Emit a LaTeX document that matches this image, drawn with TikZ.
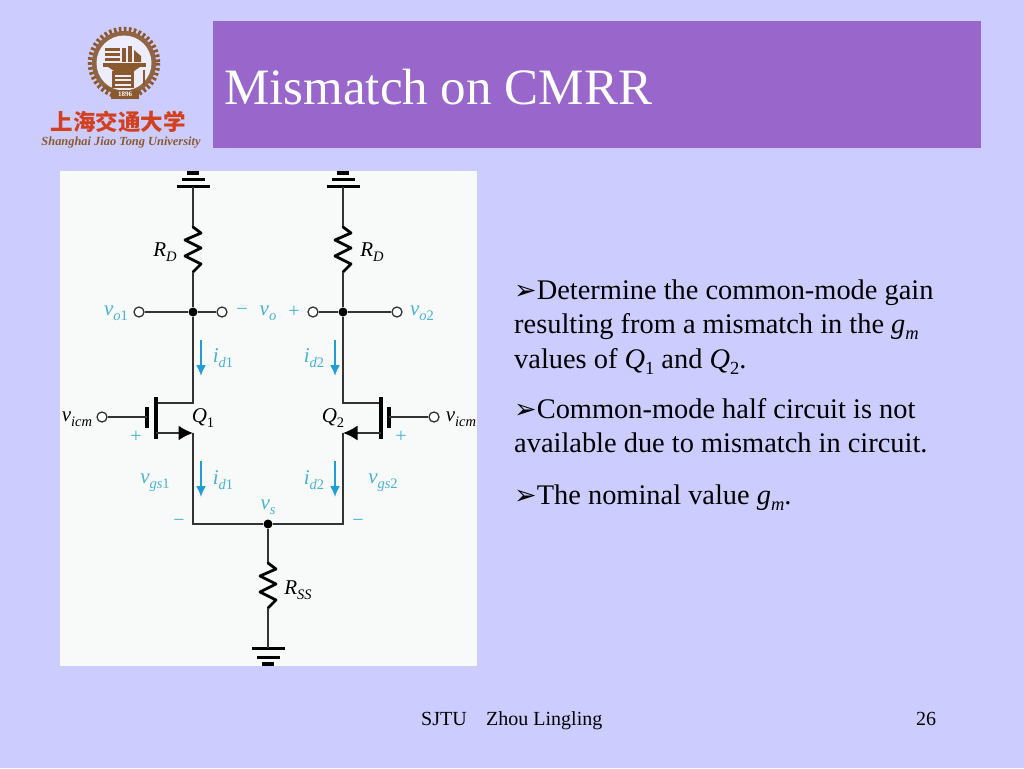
\documentclass[tikz,border=0pt]{standalone}
\usepackage{fontspec}
\setmainfont{Liberation Serif}
\newfontfamily\dejavu{DejaVu Sans}
\newfontfamily\cjkfont{Noto Sans CJK SC}
\definecolor{slidebg}{HTML}{CCCCFF}
\definecolor{titlebar}{HTML}{9966CC}
\definecolor{panel}{HTML}{F8F9F9}
\definecolor{wirec}{HTML}{333333}
\definecolor{cyanlab}{HTML}{45B3D6}
\definecolor{cyanarr}{HTML}{1E9FD8}
\definecolor{gearc}{HTML}{8A5A2E}
\definecolor{logored}{HTML}{D2401E}
\usetikzlibrary{arrows.meta}
\tikzset{
  wire/.style={draw=wirec,line width=1.6pt},
  zig/.style={draw=black,line width=2.8pt,line join=round,line cap=round},
  gatebar/.style={draw=black,line width=3.2pt},
  term/.style={circle,draw=wirec,fill=white,line width=1.3pt,minimum size=10pt,inner sep=0pt},
  dotn/.style={circle,fill=black,minimum size=9pt,inner sep=0pt},
  curr/.style={draw=cyanarr,line width=2pt,-{Latex[length=11pt,width=10pt]}},
  blab/.style={text=black,inner sep=0pt,font=\fontsize{21}{21}\selectfont\itshape},
  clab/.style={text=cyanlab,inner sep=0pt,font=\fontsize{21}{21}\selectfont\itshape},
  sym/.style={text=cyanlab,inner sep=0pt,font=\fontsize{20}{20}\selectfont},
  body/.style={anchor=base west,inner sep=0pt,font=\fontsize{28.4}{28.4}\selectfont},
  foot/.style={anchor=base west,inner sep=0pt,font=\fontsize{20}{20}\selectfont},
  gearb/.style={fill=gearc,draw=none},
}
\newcommand{\sbs}[2]{#1\raisebox{-0.22em}{\fontsize{14.5}{14.5}\selectfont #2}}
\newcommand{\sbu}[2]{#1\raisebox{-0.22em}{\fontsize{14.5}{14.5}\selectfont\upshape #2}}
\newcommand{\lsub}[1]{\raisebox{-0.22em}{\fontsize{18.5}{18.5}\selectfont #1}}
\newcommand{\bult}{{\dejavu\fontsize{27}{27}\selectfont ➢}}
\begin{document}
\begin{tikzpicture}[x=1pt,y=-1pt]
\useasboundingbox (0,0) rectangle (1024,768);
\fill[slidebg] (0,0) rectangle (1024,768);
\fill[titlebar] (213,21) rectangle (981,148);
\node[anchor=base west,inner sep=0pt,text=white,font=\fontsize{51}{51}\selectfont] (title) at (224,104) {Mismatch on CMRR};

% logo
\begin{scope}[shift={(0,5)}]
\fill[gearc!90!slidebg,draw=none] (124,58) circle (32);
\draw[gearc,line width=4.5pt,dash pattern=on 2.6pt off 2.4pt] (124,58) circle (34);
\fill[slidebg!35!white] (124,58) circle (27.5);
\fill[gearb] (103,57.5) rectangle (146,62);
\fill[gearb] (108,62) -- (140,62) -- (134,66) -- (114,66) -- cycle;
\fill[gearb] (112,66) rectangle (134,83);
\fill[slidebg!35!white] (115,69.5) rectangle (131,71.5);
\fill[slidebg!35!white] (115,74) rectangle (131,76);
\fill[slidebg!35!white] (115,78.5) rectangle (131,80.5);
\fill[gearb] (105,43) rectangle (120,46);
\fill[gearb] (105,48) rectangle (120,51);
\fill[gearb] (105,53) rectangle (120,56);
\fill[gearb] (122,43) rectangle (126,57);
\fill[gearb] (128,41) rectangle (132,57);
\fill[gearb] (134,45) -- (141,51) -- (141,57) -- (134,57) -- cycle;
\draw[gearc,line width=1.5pt] (144,65) -- (144,80);
\draw[gearc,line width=3pt] (104,82) -- (111,85);
\fill[gearc] (111,85) rectangle (139,94);
\node[inner sep=0pt,text=white,font=\fontsize{7}{7}\selectfont\bfseries] (year) at (125,89.5) {1896};
\end{scope}
\node[inner sep=0pt,text=logored,font=\fontsize{22.5}{22.5}\selectfont\cjkfont\bfseries] (cn) at (118,122) {上海交通大学};
\node[inner sep=0pt,text=gearc,font=\fontsize{12.4}{12.4}\selectfont\itshape\bfseries] (en) at (121,143) {Shanghai Jiao Tong University};

% panel
\fill[panel] (60,171) rectangle (477,666);
\begin{scope}
\clip (60,171) rectangle (477,666);
\coordinate (vl) at (193,187);
\coordinate (vr) at (343,187);
\coordinate (rd1t) at (193,227);
\coordinate (rd1b) at (193,272);
\coordinate (rd2t) at (343,227);
\coordinate (rd2b) at (343,272);
\node[dotn] (j1) at (193,312) {};
\node[dotn] (j2) at (343,312) {};
\node[term] (vo1t) at (139,312) {};
\node[term] (om) at (222,312) {};
\node[term] (op) at (313,312) {};
\node[term] (vo2t) at (397,312) {};
\coordinate (d1) at (193,403);
\coordinate (d2) at (343,403);
\coordinate (c1d) at (156,403);
\coordinate (c2d) at (381,403);
\coordinate (c1t) at (156,397);
\coordinate (c1b) at (156,439);
\coordinate (c2t) at (381,397);
\coordinate (c2b) at (381,439);
\coordinate (g1t) at (147,407);
\coordinate (g1b) at (147,428);
\coordinate (g2t) at (389,407);
\coordinate (g2b) at (389,428);
\coordinate (g1) at (147,417);
\coordinate (g2) at (389,417);
\node[term] (g1n) at (102,417) {};
\node[term] (g2n) at (434,417) {};
\coordinate (s1) at (193,433);
\coordinate (s2) at (343,433);
\coordinate (c1s) at (156,433);
\coordinate (c2s) at (381,433);
\coordinate (b1) at (193,524);
\coordinate (b2) at (343,524);
\node[dotn] (js) at (268,524) {};
\coordinate (rst) at (268,563);
\coordinate (rsb) at (268,608);
\coordinate (gnd) at (268,648);

% supplies
\foreach \c in {193,343}{
  \draw[black,line width=3pt] (\c-16.5,186.5) -- (\c+16.5,186.5);
  \draw[black,line width=3pt] (\c-11.5,179) -- (\c+11.5,179);
  \draw[black,line width=4pt] (\c-6,172.5) -- (\c+6,172.5);
}
\draw[black,line width=3pt] (252,648) -- (285,648);
\draw[black,line width=3pt] (257,657) -- (280,657);
\draw[black,line width=4pt] (262,664) -- (274,664);

% wires
\draw[wire] (vl) -- (rd1t);
\draw[wire] (vr) -- (rd2t);
\draw[zig] (rd1t) -- ++(8,6) -- ++(-16,7) -- ++(16,8) -- ++(-16,8) -- ++(16,8) -- ++(-8,8) -- (rd1b);
\draw[zig] (rd2t) -- ++(8,6) -- ++(-16,7) -- ++(16,8) -- ++(-16,8) -- ++(16,8) -- ++(-8,8) -- (rd2b);
\draw[wire] (rd1b) -- (j1);
\draw[wire] (rd2b) -- (j2);
\draw[wire] (vo1t) -- (j1);
\draw[wire] (j1) -- (om);
\draw[wire] (op) -- (j2);
\draw[wire] (j2) -- (vo2t);
\draw[wire] (j1) -- (d1) -- (c1d);
\draw[wire] (j2) -- (d2) -- (c2d);
\draw[gatebar] (c1t) -- (c1b);
\draw[gatebar] (c2t) -- (c2b);
\draw[gatebar] (g1t) -- (g1b);
\draw[gatebar] (g2t) -- (g2b);
\draw[wire] (g1n) -- (g1);
\draw[wire] (g2n) -- (g2);
\draw[wire,line width=2pt,-{Latex[length=14.5pt,width=15pt,black]}] (c1s) -- (s1);
\draw[wire,line width=2pt,-{Latex[length=14.5pt,width=15pt,black]}] (c2s) -- (s2);
\draw[wire] (s1) -- (b1) -- (js);
\draw[wire] (s2) -- (b2) -- (js);
\draw[wire] (js) -- (rst);
\draw[zig] (rst) -- ++(8,6) -- ++(-16,7) -- ++(16,8) -- ++(-16,8) -- ++(16,8) -- ++(-8,8) -- (rsb);
\draw[wire] (rsb) -- (gnd);

% current arrows
\coordinate (a1t) at (201,340); \coordinate (a1b) at (201,376);
\coordinate (a2t) at (335,340); \coordinate (a2b) at (335,376);
\coordinate (a3t) at (201,461); \coordinate (a3b) at (201,497);
\coordinate (a4t) at (335,461); \coordinate (a4b) at (335,497);
\draw[curr] (a1t) -- (a1b);
\draw[curr] (a2t) -- (a2b);
\draw[curr] (a3t) -- (a3b);
\draw[curr] (a4t) -- (a4b);

% labels
\node[blab] (lrd1) at (165,252) {\sbs{R}{D}};
\node[blab] (lrd2) at (372,252) {\sbs{R}{D}};
\node[clab] (lvo1) at (116,313) {\sbu{v}{\itshape o\upshape 1}};
\node[sym]  (lm) at (242,312) {−};
\node[clab] (lvo) at (268,313) {\sbs{v}{o}};
\node[sym]  (lp) at (294,312) {+};
\node[clab] (lvo2) at (422,313) {\sbu{v}{\itshape o\upshape 2}};
\node[clab] (li1) at (223,358) {\sbu{i}{\itshape d\upshape 1}};
\node[clab] (li2) at (314,358) {\sbu{i}{\itshape d\upshape 2}};
\node[clab] (li3) at (223,480) {\sbu{i}{\itshape d\upshape 1}};
\node[clab] (li4) at (314,480) {\sbu{i}{\itshape d\upshape 2}};
\node[blab] (lg1) at (77,419) {\sbs{v}{icm}};
\node[blab] (lg2) at (461,419) {\sbs{v}{icm}};
\node[blab] (lq1) at (203,418) {\sbu{Q}{1}};
\node[blab] (lq2) at (333,418) {\sbu{Q}{2}};
\node[sym] (lp1) at (136,437) {+};
\node[sym] (lp2) at (401,437) {+};
\node[clab] (lgs1) at (155,483) {\sbu{v}{\itshape gs\upshape 1}};
\node[clab] (lgs2) at (383,483) {\sbu{v}{\itshape gs\upshape 2}};
\node[clab] (lvs) at (268,507) {\sbs{v}{s}};
\node[sym] (lm1) at (179,523) {−};
\node[sym] (lm2) at (358,523) {−};
\node[blab] (lrs) at (298,590) {\sbs{R}{SS}};
\end{scope}

% body text
\node[body] (t1) at (514,299) {\bult Determine the common-mode gain};
\node[body] (t2) at (514,333) {resulting from a mismatch in the \textit{g}\lsub{\itshape m}};
\node[body] (t3) at (514,368) {values of \textit{Q}\lsub{1} and \textit{Q}\lsub{2}.};
\node[body] (t4) at (514,418) {\bult Common-mode half circuit is not};
\node[body] (t5) at (514,452) {available due to mismatch in circuit.};
\node[body] (t6) at (514,504) {\bult The nominal value \textit{g}\lsub{\itshape m}.};

% footer
\node[foot] (f1) at (421,725) {SJTU};
\node[foot] (f2) at (486,725) {Zhou Lingling};
\node[foot] (f3) at (916,725) {26};
\end{tikzpicture}
\end{document}
